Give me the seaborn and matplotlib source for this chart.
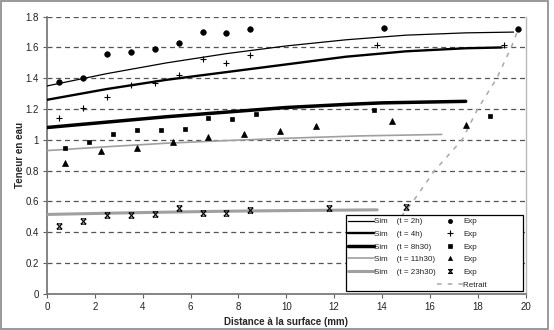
import numpy as np
import pandas as pd
import matplotlib
matplotlib.use("Agg")
import matplotlib.pyplot as plt
import seaborn as sns
from matplotlib.path import Path
from matplotlib.lines import Line2D
from matplotlib.patches import Rectangle

sns.set_style("white")
plt.rcParams['font.family'] = ['Liberation Sans', 'DejaVu Sans']

# ---- simulated profiles ----
sim_2h_x = [0, 2.5, 5, 7.5, 10, 12.5, 15, 17.5, 19.5]
sim_2h_y = [1.35, 1.43, 1.50, 1.56, 1.61, 1.65, 1.68, 1.695, 1.70]
sim_4h_x = [0, 2.5, 5, 7.5, 10, 12.5, 15, 17.5, 19.0]
sim_4h_y = [1.26, 1.33, 1.39, 1.44, 1.49, 1.54, 1.575, 1.595, 1.60]
sim_8h_x = [0, 2.5, 5, 7.5, 10, 12.5, 14, 17.5]
sim_8h_y = [1.08, 1.115, 1.15, 1.18, 1.21, 1.23, 1.24, 1.25]
sim_11h_x = [0, 2.5, 5, 7.5, 10, 13, 16.5]
sim_11h_y = [0.93, 0.955, 0.978, 0.995, 1.01, 1.025, 1.035]
sim_23h_x = [0, 2.5, 5, 7.5, 10, 13.8]
sim_23h_y = [0.515, 0.523, 0.530, 0.536, 0.540, 0.545]

# ---- experimental points ----
exp_2h_x = [0.5, 1.5, 2.5, 3.5, 4.5, 5.5, 6.5, 7.5, 8.5, 14.1, 19.7]
exp_2h_y = [1.376, 1.40, 1.557, 1.568, 1.587, 1.631, 1.70, 1.694, 1.72, 1.729, 1.72]
exp_4h_x = [0.5, 1.5, 2.5, 3.5, 4.5, 5.5, 6.5, 7.5, 8.5, 13.8, 19.1]
exp_4h_y = [1.14, 1.207, 1.279, 1.355, 1.368, 1.42, 1.522, 1.496, 1.55, 1.618, 1.616]
exp_8h_x = [0.75, 1.75, 2.75, 3.75, 4.75, 5.75, 6.75, 7.75, 8.75, 13.65, 18.5]
exp_8h_y = [0.948, 0.985, 1.037, 1.063, 1.063, 1.07, 1.142, 1.135, 1.166, 1.196, 1.152]
exp_11h_x = [0.75, 2.25, 3.75, 5.25, 6.75, 8.25, 9.75, 11.25, 14.4, 17.5]
exp_11h_y = [0.85, 0.926, 0.95, 0.983, 1.018, 1.039, 1.06, 1.09, 1.12, 1.094]
exp_23h_x = [0.5, 1.5, 2.5, 3.5, 4.5, 5.5, 6.5, 7.5, 8.5, 11.77, 15.0]
exp_23h_y = [0.442, 0.47, 0.513, 0.509, 0.52, 0.554, 0.526, 0.524, 0.546, 0.557, 0.561]

# ---- shrinkage front ----
retrait_x = [14.8, 15.3, 16.2, 17.35, 18.0, 18.8, 19.4, 19.7]
retrait_y = [0.50, 0.60, 0.80, 1.00, 1.20, 1.40, 1.60, 1.72]

series_labels = ["(t = 2h)", "(t = 4h)", "(t = 8h30)", "(t = 11h30)", "(t = 23h30)"]
x_ticks = [0, 2, 4, 6, 8, 10, 12, 14, 16, 18, 20]
y_ticks = [0, 0.2, 0.4, 0.6, 0.8, 1, 1.2, 1.4, 1.6, 1.8]
y_tick_labels = ["0", "0.2", "0.4", "0.6", "0.8", "1", "1.2", "1.4", "1.6", "1.8"]

# custom "x with bars" marker
xbar = Path([(-0.5, 0.5), (0.5, 0.5), (-0.5, -0.5), (0.5, -0.5),
             (-0.5, 0.5), (0.5, -0.5), (0.5, 0.5), (-0.5, -0.5)],
            [Path.MOVETO, Path.LINETO, Path.MOVETO, Path.LINETO,
             Path.MOVETO, Path.LINETO, Path.MOVETO, Path.LINETO])

fig = plt.figure(figsize=(5.54, 3.30), dpi=100)
ax = fig.add_axes([47/554, 1-293.7/330, 478.5/554, 277/330])

line_styles = [
    dict(color="black", lw=0.9),
    dict(color="black", lw=1.7),
    dict(color="black", lw=2.5),
    dict(color="#a0a0a0", lw=1.2),
    dict(color="#a0a0a0", lw=2.2),
]
marker_styles = [
    dict(marker="o", ms=4.0, mfc="black", mec="black", mew=0.5),
    dict(marker="+", ms=5, mfc="none", mec="black", mew=0.8),
    dict(marker="s", ms=3.3, mfc="black", mec="black", mew=0.5),
    dict(marker="^", ms=4.0, mfc="black", mec="black", mew=0.5),
    dict(marker=xbar, ms=3.8, mfc="none", mec="black", mew=0.8),
]

sims = [(sim_2h_x, sim_2h_y), (sim_4h_x, sim_4h_y), (sim_8h_x, sim_8h_y),
        (sim_11h_x, sim_11h_y), (sim_23h_x, sim_23h_y)]
exps = [(exp_2h_x, exp_2h_y), (exp_4h_x, exp_4h_y), (exp_8h_x, exp_8h_y),
        (exp_11h_x, exp_11h_y), (exp_23h_x, exp_23h_y)]

for (sx, sy), st in zip(sims, line_styles):
    sns.lineplot(x=sx, y=sy, ax=ax, color=st["color"], linewidth=st["lw"],
                 estimator=None, sort=False, zorder=3)
for (ex, ey), ms in zip(exps, marker_styles):
    sns.lineplot(x=ex, y=ey, ax=ax, linestyle="none", color="black",
                 marker=ms["marker"], markersize=ms["ms"], markerfacecolor=ms["mfc"],
                 markeredgecolor=ms["mec"], markeredgewidth=ms["mew"],
                 estimator=None, sort=False, zorder=4)
sns.lineplot(x=retrait_x, y=retrait_y, ax=ax, color="#a8a8a8", linewidth=1.1,
             dashes=(3, 4), estimator=None, sort=False, zorder=2)

ax.set_xlim(0, 20)
ax.set_ylim(0, 1.8)
ax.set_xticks(x_ticks)
ax.set_xticklabels([str(t) for t in x_ticks])
ax.set_yticks(y_ticks)
ax.set_yticklabels(y_tick_labels)
ax.tick_params(axis="both", labelsize=7, length=3, width=0.8, color="#606060",
               direction="out", pad=3, labelcolor="#222222")
ax.tick_params(axis="x", bottom=True)
ax.tick_params(axis="y", left=True)

for yv in y_ticks[1:]:
    ax.axhline(yv, color="#555555", lw=0.9, ls=(0, (4, 3)), zorder=1)

ax.spines["top"].set_visible(False)
ax.spines["right"].set_color("#b8b8b8")
ax.spines["right"].set_linewidth(1.0)
for s in ["left", "bottom"]:
    ax.spines[s].set_color("#707070")
    ax.spines[s].set_linewidth(1.2)

ax.set_xlabel("Distance à la surface (mm)", fontsize=7, fontweight="bold")
ax.set_ylabel("Teneur en eau", fontsize=7, fontweight="bold")
ax.xaxis.set_label_coords(0.5, -0.085)
ax.yaxis.set_label_coords(-0.047, 0.5)

# legend
blank = Line2D([], [], linestyle="none")
handles = []
labels = []
for st, lab in zip(line_styles, series_labels):
    handles.append(Line2D([], [], color=st["color"], lw=st["lw"]))
    labels.append("Sim    " + lab)
handles.append(blank)
labels.append(" ")
for ms in marker_styles:
    handles.append(Line2D([], [], linestyle="none", color="black", marker=ms["marker"],
                          markersize=ms["ms"] * 0.75, markerfacecolor=ms["mfc"],
                          markeredgecolor=ms["mec"], markeredgewidth=ms["mew"]))
    labels.append("Exp")
handles.append(Line2D([], [], color="#a8a8a8", lw=1.1, dashes=(3, 4)))
labels.append("Retrait" + " " * 15)

leg = ax.legend(handles, labels, ncol=2, loc="lower right",
                bbox_to_anchor=(0.995, 0.01), fontsize=5.8, frameon=True,
                fancybox=False, edgecolor="black", framealpha=1,
                handlelength=3.2, handletextpad=0.05, labelspacing=0.62,
                columnspacing=0.15, borderpad=0.3, borderaxespad=0)
leg.get_frame().set_linewidth(0.9)
for t in leg.get_texts():
    t.set_color("#222222")

fig.patches.append(Rectangle((0.002, 0.004), 0.988, 0.992, transform=fig.transFigure,
                             fill=False, edgecolor="#888888", lw=1.2))

fig.savefig("out.png", dpi=100)
